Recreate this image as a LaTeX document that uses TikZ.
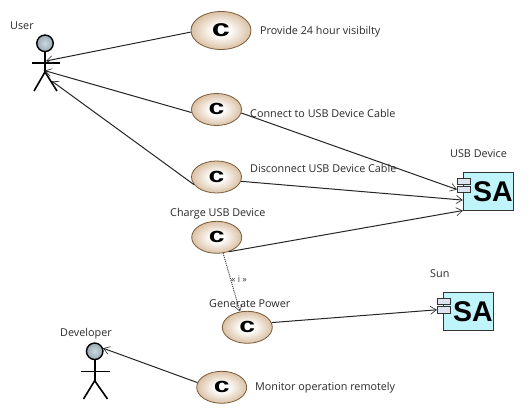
\documentclass[tikz,border=0pt]{standalone}
\usepackage{fontspec}
\setmainfont{Open Sans}
\newfontfamily\glyphfont{Liberation Sans}
\usetikzlibrary{shapes.geometric,arrows.meta}
\definecolor{lbl}{HTML}{2A2A2A}
\definecolor{tan}{HTML}{C49A6C}
\definecolor{tanline}{HTML}{7A5C3A}
\definecolor{cyanbox}{HTML}{BFF4FB}
\definecolor{portfill}{HTML}{DDE4F0}
\definecolor{headfill}{HTML}{A8BEC9}
\pgfdeclareradialshading{casefill}{\pgfpointorigin}{color(0bp)=(white); color(7bp)=(white); color(36bp)=(tan); color(100bp)=(tan)}
\tikzset{
  x=1pt,y=-1pt,
  lab/.style={font=\fontsize{10.8}{12}\selectfont,text=lbl,inner sep=0pt},
  usecase/.style={ellipse,draw=tanline,line width=.8pt,inner sep=0pt,minimum width=50pt,minimum height=32pt,
    shading=casefill,
    font=\glyphfont\bfseries\fontsize{21}{21}\selectfont},
  bigcase/.style={usecase,minimum width=60pt,minimum height=38pt,font=\glyphfont\bfseries\fontsize{24}{24}\selectfont},
  flow/.style={draw=black!85,line width=1pt,-{Straight Barb[length=6pt,width=8pt,line width=.6pt]}},
  depend/.style={draw=black!75,line width=1pt,dash pattern=on 1pt off 1pt,-{Straight Barb[length=6pt,width=8pt,line width=.6pt]}},
  actorhead/.style={circle,draw=black,line width=1.4pt,inner sep=0pt,minimum size=16.5pt,inner color=headfill!60,outer color=headfill!90!black},
  limb/.style={draw=black,line width=1.6pt},
  sabox/.style={draw=black!80,line width=1pt,fill=cyanbox,minimum width=50pt,minimum height=38pt,inner sep=0pt},
  satext/.style={inner sep=0pt,font=\glyphfont\bfseries\fontsize{28.5}{28.5}\selectfont},
  port/.style={draw=black!80,line width=.8pt,fill=portfill,minimum width=13.4pt,minimum height=6.4pt,inner sep=0pt},
}
\newcommand{\cglyph}{\raisebox{1pt}{\scalebox{1.35}[1]{c}}}
\begin{document}
\begin{tikzpicture}
\useasboundingbox (0,0) rectangle (530,420);
\fill[white] (0,0) rectangle (530,420);
% use cases
\node[bigcase] (c1) at (221,30.5) {\cglyph};
\node[usecase] (c2) at (216.5,109.5) {\cglyph};
\node[usecase] (c3) at (216.5,177) {\cglyph};
\node[usecase] (c4) at (216.7,237.3) {\cglyph};
\node[usecase] (c5) at (247.3,327.3) {\cglyph};
\node[usecase] (c6) at (221.7,387.3) {\cglyph};
% actors
\node[actorhead] (userhead) at (45,43.3) {};
\coordinate (userarmL) at (32,63);
\coordinate (userarmR) at (59.5,63);
\coordinate (userhip) at (45,72);
\draw[limb] (userhead.south) -- (userhip);
\draw[limb] (userarmL) -- (userarmR);
\draw[limb] (34,91) -- (userhip) -- (57,91);
\coordinate (userA) at (46,61);
\coordinate (userB) at (45,70.7);
\coordinate (userC) at (51.7,81);
\node[actorhead] (devhead) at (94.7,351.3) {};
\coordinate (devhip) at (94.7,380.7);
\draw[limb] (devhead.south) -- (devhip);
\draw[limb] (81,371.3) -- (109.5,371.3);
\draw[limb] (83.5,399) -- (devhip) -- (107.5,399);
% components
\node[sabox] (usb) at (488.3,191.3) {};
\node[satext] (usbt) at (492.8,192) {SA};
\node[port] (usba) at (464,181.2) {};
\node[port] (usbb) at (464,189.5) {};
\node[sabox] (sun) at (468.3,311.2) {};
\node[satext] (sunt) at (472.8,312) {SA};
\node[port] (suna) at (444,301.3) {};
\node[port] (sunb) at (444,309.8) {};
% connectors
\draw[flow] (c1.183) -- (userA);
\draw[flow] (c2.187) -- (userB);
\draw[flow] (c3.199) -- (userC);
\draw[flow] (c2.352) -- (usbb.west);
\draw[flow] (c3.350) -- (usb.199);
\draw[flow] (c4.310) -- (usb.217);
\draw[depend] (c4.292) -- (c5.115);
\draw[flow] (c5.11) -- (sunb.west);
\draw[flow] (c6.169) -- (devhead.20);
% labels
\node[lab,anchor=west] (l0) at (10,26) {User};
\node[lab,anchor=west] (l1) at (260,32) {Provide 24 hour visibilty};
\node[lab,anchor=west] (l2) at (250,113) {Connect to USB Device Cable};
\node[lab,anchor=west] (l3) at (250,168) {Disconnect USB Device Cable};
\node[lab,anchor=west] (l4) at (170,214) {Charge USB Device};
\node[lab,anchor=west] (l5) at (209,304) {Generate Power};
\node[lab,anchor=west] (l6) at (255,388) {Monitor operation remotely};
\node[lab,anchor=west] (l7) at (60,334) {Developer};
\node[lab,anchor=west] (l8) at (450,154) {USB Device};
\node[lab,anchor=west] (l9) at (430,274) {Sun};
\node[lab,font=\fontsize{9}{9}\selectfont,text=black!80] (l10) at (239,279) {« i »};
\end{tikzpicture}
\end{document}
